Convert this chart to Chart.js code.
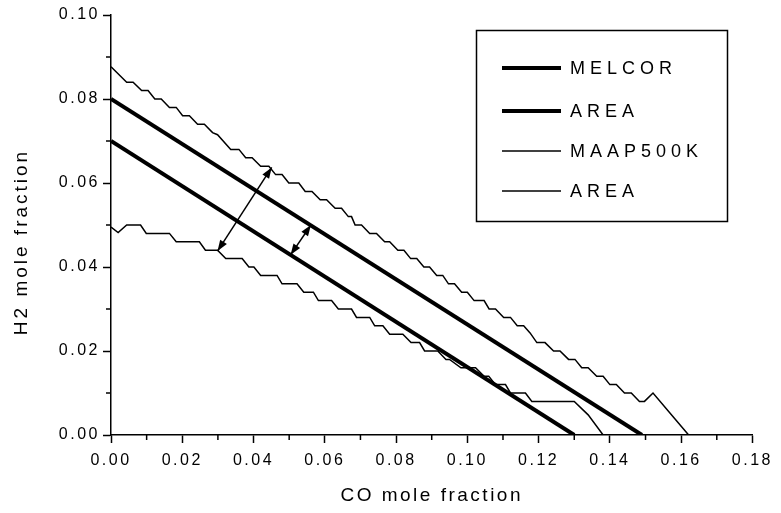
<!DOCTYPE html>
<html><head><meta charset="utf-8">
<script src="https://cdn.jsdelivr.net/npm/chart.js@4.4.1/dist/chart.umd.min.js"></script>
<style>html,body{margin:0;padding:0;background:#fff;}#wrap{width:781px;height:513px;}</style>
</head><body><div id="wrap"><canvas id="c" width="781" height="513"></canvas></div>
<script>
// ---- data ----
const xTickValues = [0,0.02,0.04,0.06,0.08,0.10,0.12,0.14,0.16,0.18];
const xTickLabels = ['0.00','0.02','0.04','0.06','0.08','0.10','0.12','0.14','0.16','0.18'];
const yTickValues = [0,0.02,0.04,0.06,0.08,0.10];
const yTickLabels = ['0.00','0.02','0.04','0.06','0.08','0.10'];
const seriesLabels = ['MELCOR','AREA','MAAP500K','AREA'];
const xTitle = 'CO mole fraction';
const yTitle = 'H2 mole fraction';

const melcorX = [0, 0.149];
const melcorY = [0.080, 0];
const melcorAreaX = [0, 0.130];
const melcorAreaY = [0.070, 0];

const maapX = [0,0.0044,0.0062,0.0086,0.0104,0.0123,0.0141,0.0164,0.0183,0.0201,0.0220,0.0243,0.0262,0.0285,0.0299,0.0336,0.0359,0.0378,0.0396,0.0420,0.0443,0.0462,0.0480,0.0499,0.0527,0.0545,0.0564,0.0587,0.0605,0.0629,0.0647,0.0666,0.0675,0.0685,0.0703,0.0726,0.0745,0.0768,0.0782,0.0805,0.0822,0.0841,0.0858,0.0878,0.0894,0.0914,0.0931,0.0947,0.0964,0.0984,0.1000,0.1019,0.1047,0.1061,0.1079,0.1102,0.1121,0.1140,0.1158,0.1176,0.1195,0.1218,0.1242,0.1260,0.1284,0.1302,0.1321,0.1339,0.1363,0.1381,0.1400,0.1418,0.1441,0.1460,0.1483,0.1497,0.1521,0.1581,0.1621];
const maapY = [0.0877,0.0840,0.0840,0.0820,0.0820,0.0800,0.0800,0.0780,0.0780,0.0760,0.0760,0.0740,0.0740,0.0720,0.0715,0.0680,0.0680,0.0660,0.0660,0.0640,0.0640,0.0620,0.0620,0.0600,0.0600,0.0580,0.0580,0.0560,0.0560,0.0540,0.0540,0.0520,0.0520,0.0500,0.0500,0.0480,0.0480,0.0460,0.0460,0.0440,0.0440,0.0420,0.0420,0.0400,0.0400,0.0380,0.0380,0.0360,0.0360,0.0340,0.0340,0.0320,0.0320,0.0300,0.0300,0.0280,0.0280,0.0260,0.0260,0.0243,0.0220,0.0220,0.0200,0.0200,0.0180,0.0180,0.0160,0.0160,0.0140,0.0140,0.0120,0.0120,0.0100,0.0100,0.0080,0.0080,0.0100,0.0040,0];

const maapAreaX = [0,0.0020,0.0044,0.0083,0.0099,0.0164,0.0183,0.0248,0.0265,0.0299,0.0322,0.0368,0.0387,0.0401,0.0420,0.0466,0.0480,0.0522,0.0541,0.0568,0.0582,0.0619,0.0638,0.0675,0.0689,0.0726,0.0740,0.0763,0.0782,0.0819,0.0842,0.0866,0.0880,0.0917,0.0940,0.0950,0.0982,0.1023,0.1047,0.1060,0.1079,0.1107,0.1121,0.1163,0.1181,0.1300,0.1339,0.1381];
const maapAreaY = [0.0495,0.0482,0.0500,0.0500,0.0480,0.0480,0.0460,0.0460,0.0440,0.0440,0.0420,0.0420,0.0400,0.0400,0.0380,0.0380,0.0360,0.0360,0.0340,0.0340,0.0320,0.0320,0.0300,0.0300,0.0280,0.0280,0.0260,0.0260,0.0240,0.0240,0.0220,0.0220,0.0200,0.0200,0.0180,0.0180,0.0160,0.0160,0.0140,0.0140,0.0120,0.0120,0.0100,0.0100,0.0080,0.0080,0.0048,0];

const arrow1X = [0.0299, 0.0451];
const arrow1Y = [0.0438, 0.0637];
const arrow2X = [0.0504, 0.0561];
const arrow2Y = [0.0429, 0.0500];

// ---- build ----
const pts = (xs, ys) => xs.map((x, i) => ({x, y: ys[i]}));
const FONT = "'Liberation Sans', Arial, sans-serif";
const widths = [4, 4, 1.5, 1.5];
const seriesData = [pts(melcorX, melcorY), pts(melcorAreaX, melcorAreaY), pts(maapX, maapY), pts(maapAreaX, maapAreaY)];

const spacingPlugin = {
  id: 'spacing',
  beforeUpdate(chart) { chart.ctx.letterSpacing = '2.5px'; },
  beforeDraw(chart) { chart.ctx.letterSpacing = '2.5px'; }
};

const minorTicks = {
  id: 'minorTicks',
  afterDraw(chart) {
    const ctx = chart.ctx, xs = chart.scales.x, ys = chart.scales.y;
    ctx.save();
    ctx.strokeStyle = '#000'; ctx.lineWidth = 1.5;
    for (let i = 0; i < xTickValues.length - 1; i++) {
      const px = xs.getPixelForValue((xTickValues[i] + xTickValues[i + 1]) / 2);
      ctx.beginPath(); ctx.moveTo(px, ys.bottom); ctx.lineTo(px, ys.bottom + 5); ctx.stroke();
    }
    for (let i = 0; i < yTickValues.length - 1; i++) {
      const py = ys.getPixelForValue((yTickValues[i] + yTickValues[i + 1]) / 2);
      ctx.beginPath(); ctx.moveTo(xs.left, py); ctx.lineTo(xs.left - 5, py); ctx.stroke();
    }
    ctx.restore();
  }
};

const arrows = {
  id: 'arrows',
  afterDatasetsDraw(chart) {
    const ctx = chart.ctx, xs = chart.scales.x, ys = chart.scales.y;
    const list = [[arrow1X, arrow1Y], [arrow2X, arrow2Y]];
    ctx.save();
    ctx.strokeStyle = '#000'; ctx.fillStyle = '#000'; ctx.lineWidth = 1.5;
    for (const [ax, ay] of list) {
      const x1 = xs.getPixelForValue(ax[0]), y1 = ys.getPixelForValue(ay[0]);
      const x2 = xs.getPixelForValue(ax[1]), y2 = ys.getPixelForValue(ay[1]);
      const ang = Math.atan2(y2 - y1, x2 - x1);
      const L = 11, W = 4;
      ctx.beginPath(); ctx.moveTo(x1, y1); ctx.lineTo(x2, y2); ctx.stroke();
      const head = (x, y, a) => {
        ctx.beginPath();
        ctx.moveTo(x, y);
        ctx.lineTo(x - L * Math.cos(a) + W * Math.sin(a), y - L * Math.sin(a) - W * Math.cos(a));
        ctx.lineTo(x - L * Math.cos(a) - W * Math.sin(a), y - L * Math.sin(a) + W * Math.cos(a));
        ctx.closePath(); ctx.fill();
      };
      head(x2, y2, ang);
      head(x1, y1, ang + Math.PI);
    }
    ctx.restore();
  }
};

const boxLegend = {
  id: 'boxLegend',
  afterDraw(chart) {
    const ctx = chart.ctx;
    ctx.save();
    ctx.strokeStyle = '#000'; ctx.lineWidth = 1.5;
    ctx.strokeRect(476.5, 30.5, 251, 191);
    const rows = [68, 111, 151, 191];
    ctx.font = '18px ' + FONT;
    ctx.letterSpacing = '5px';
    ctx.fillStyle = '#000'; ctx.textBaseline = 'middle'; ctx.textAlign = 'left';
    chart.data.datasets.forEach((ds, i) => {
      ctx.lineWidth = ds.borderWidth;
      ctx.beginPath(); ctx.moveTo(502, rows[i]); ctx.lineTo(561, rows[i]); ctx.stroke();
      ctx.fillText(ds.label, 570, rows[i] + 1);
    });
    ctx.restore();
  }
};

const yTitlePlugin = {
  id: 'yTitle',
  afterDraw(chart) {
    const ctx = chart.ctx;
    ctx.save();
    ctx.font = '19px ' + FONT; ctx.letterSpacing = '3px';
    ctx.fillStyle = '#000'; ctx.textAlign = 'center'; ctx.textBaseline = 'middle';
    ctx.translate(22, 242); ctx.rotate(-Math.PI / 2);
    ctx.fillText(yTitle, 0, 0);
    ctx.restore();
  }
};

new Chart(document.getElementById('c'), {
  type: 'scatter',
  data: {
    datasets: seriesData.map((d, i) => ({
      label: seriesLabels[i], data: d, showLine: true, borderColor: '#000', backgroundColor: '#000',
      borderWidth: widths[i], pointRadius: 0, tension: 0, fill: false, borderJoinStyle: 'miter'
    }))
  },
  options: {
    responsive: false, animation: false, devicePixelRatio: 1,
    layout: { padding: { top: 15, right: 24, left: 0, bottom: 0 } },
    plugins: { legend: { display: false }, tooltip: { enabled: false } },
    scales: {
      x: {
        type: 'linear', min: 0, max: 0.18,
        afterBuildTicks: s => { s.ticks = xTickValues.map(v => ({ value: v })); },
        afterFit: s => { s.height = 78; },
        ticks: { autoSkip: false, maxRotation: 0, padding: 8, color: '#000', font: { family: FONT, size: 16 },
          callback: (v, i) => xTickLabels[i] },
        grid: { drawOnChartArea: false, tickLength: 8, color: '#000', tickWidth: 1.5 },
        border: { color: '#000', width: 1.5 },
        title: { display: true, text: xTitle, color: '#000', font: { family: FONT, size: 19 }, padding: { top: 0, bottom: 6 } }
      },
      y: {
        type: 'linear', min: 0, max: 0.10,
        afterBuildTicks: s => { s.ticks = yTickValues.map(v => ({ value: v })); },
        afterFit: s => { s.width = 111; },
        ticks: { autoSkip: false, padding: 3, color: '#000', font: { family: FONT, size: 16 },
          callback: (v, i) => yTickLabels[i] },
        grid: { drawOnChartArea: false, tickLength: 8, color: '#000', tickWidth: 1.5 },
        border: { color: '#000', width: 1.5 }
      }
    }
  },
  plugins: [spacingPlugin, minorTicks, arrows, boxLegend, yTitlePlugin]
});
</script></body></html>
